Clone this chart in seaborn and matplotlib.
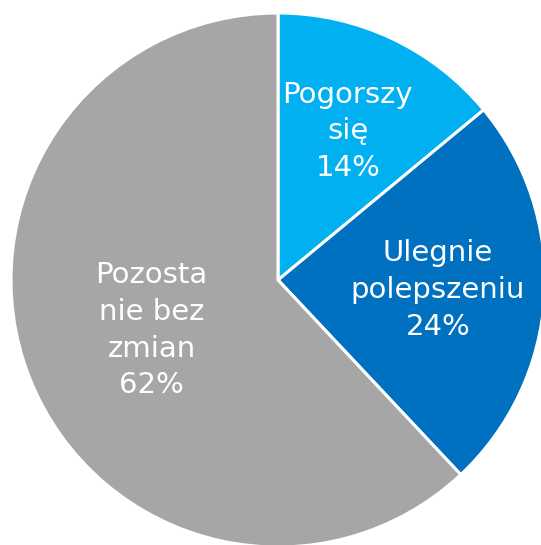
import numpy as np
import matplotlib.pyplot as plt
import seaborn as sns

labels = ['Pogorszy\nsię', 'Ulegnie\npolepszeniu', 'Pozosta\nnie bez\nzmian']
values = [14, 24, 62]
colors = ['#00B0F0', '#0070C0', '#A6A6A6']
label_dist = [0.615, 0.6, 0.51]

sns.set_theme(style='white')
plt.rcParams['font.family'] = ['DejaVu Sans']

fig = plt.figure(figsize=(5.41, 5.45), dpi=100)
ax = fig.add_axes([0, 0, 1, 1])

wedges, texts = ax.pie(
    values,
    colors=colors,
    startangle=90,
    counterclock=False,
    radius=1.0,
    wedgeprops=dict(edgecolor='white', linewidth=2.2),
)

# etykiety w środku wycinków
for w, lab, v, d in zip(wedges, labels, values, label_dist):
    ang = np.deg2rad((w.theta1 + w.theta2) / 2)
    ax.text(d * np.cos(ang), d * np.sin(ang), f'{lab}\n{v}%',
            ha='center', va='center', color='white', fontsize=21,
            linespacing=1.4)

ax.set_xlim(-278 / 267, (541 - 278) / 267)
ax.set_ylim(-(545 - 280) / 267, 280 / 267)
ax.set_aspect('equal')
ax.axis('off')

fig.savefig('out.png', dpi=100)
